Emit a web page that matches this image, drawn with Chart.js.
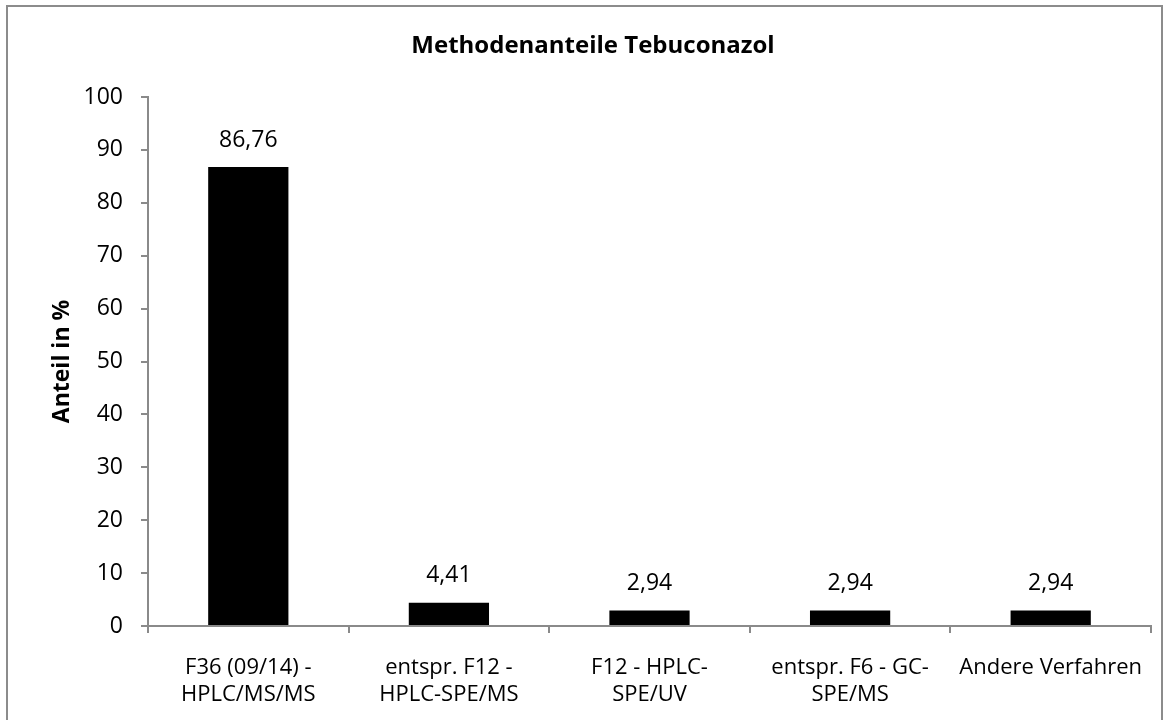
<!DOCTYPE html>
<html><head><meta charset="utf-8">
<script src="https://cdn.jsdelivr.net/npm/chart.js@4"></script>
<style>html,body{margin:0;padding:0;background:#fff}#wrap{width:1168px;height:720px}</style>
</head><body><div id="wrap"><canvas id="c" width="1168" height="720"></canvas></div>
<script>
const categories = [
  ['F36 (09/14) -', 'HPLC/MS/MS'],
  ['entspr. F12 -', 'HPLC-SPE/MS'],
  ['F12 - HPLC-', 'SPE/UV'],
  ['entspr. F6 - GC-', 'SPE/MS'],
  ['Andere Verfahren']
];
const shares = [86.76, 4.41, 2.94, 2.94, 2.94];
const yTicks = [0, 10, 20, 30, 40, 50, 60, 70, 80, 90, 100];
const chartTitle = 'Methodenanteile Tebuconazol';
const yTitle = 'Anteil in %';

const FONT = '"Open Sans", sans-serif';
const AXIS = '#8a8a8a';

const deco = {
  id: 'deco',
  beforeDraw(chart) {
    const ctx = chart.ctx;
    ctx.save();
    ctx.fillStyle = '#fff';
    ctx.fillRect(0, 0, chart.width, chart.height);
    ctx.strokeStyle = '#8c8c8c';
    ctx.lineWidth = 2;
    ctx.strokeRect(7, 6, 1155, 740);
    ctx.restore();
  },
  afterDraw(chart) {
    const ctx = chart.ctx;
    const ca = chart.chartArea;
    ctx.save();
    ctx.fillStyle = '#000';
    ctx.textAlign = 'center';
    ctx.textBaseline = 'middle';
    ctx.font = 'bold 24px ' + FONT;
    ctx.fillText(chartTitle, 593, 46);
    ctx.font = 'bold 23px ' + FONT;
    ctx.translate(62, (ca.top + ca.bottom) / 2);
    ctx.rotate(-Math.PI / 2);
    ctx.fillText(yTitle, 0, 0);
    ctx.restore();
  },
  afterDatasetsDraw(chart) {
    const ctx = chart.ctx;
    const meta = chart.getDatasetMeta(0);
    ctx.save();
    ctx.fillStyle = '#000';
    ctx.textAlign = 'center';
    ctx.textBaseline = 'middle';
    ctx.font = '23px ' + FONT;
    meta.data.forEach((bar, i) => {
      const v = chart.data.datasets[0].data[i];
      ctx.fillText(v.toFixed(2).replace('.', ','), bar.x, bar.y - 27);
    });
    ctx.restore();
  }
};

new Chart(document.getElementById('c'), {
  type: 'bar',
  data: {
    labels: categories,
    datasets: [{
      data: shares,
      backgroundColor: '#000',
      borderWidth: 0,
      barPercentage: 0.4,
      categoryPercentage: 1.0
    }]
  },
  options: {
    responsive: false,
    animation: false,
    layout: { padding: { top: 97, right: 17, left: 0, bottom: 0 } },
    plugins: { legend: { display: false }, tooltip: { enabled: false }, title: { display: false } },
    scales: {
      x: {
        offset: true,
        grid: { display: true, offset: true, drawOnChartArea: false, drawTicks: true, tickLength: 7, color: AXIS, lineWidth: 2 },
        border: { display: true, color: AXIS, width: 2 },
        ticks: { color: '#000', font: { family: FONT, size: 22, lineHeight: 1.22 }, padding: 21, maxRotation: 0, autoSkip: false },
        afterFit(scale) { scale.height = 94; }
      },
      y: {
        min: 0, max: 100,
        afterBuildTicks(scale) { scale.ticks = yTicks.map(v => ({ value: v })); },
        grid: { display: true, drawOnChartArea: false, drawTicks: true, tickLength: 7, color: AXIS, lineWidth: 2 },
        border: { display: true, color: AXIS, width: 2 },
        ticks: { color: '#000', font: { family: FONT, size: 23 }, padding: 18 },
        afterFit(scale) { scale.width = 148; }
      }
    }
  },
  plugins: [deco]
});
</script></body></html>
